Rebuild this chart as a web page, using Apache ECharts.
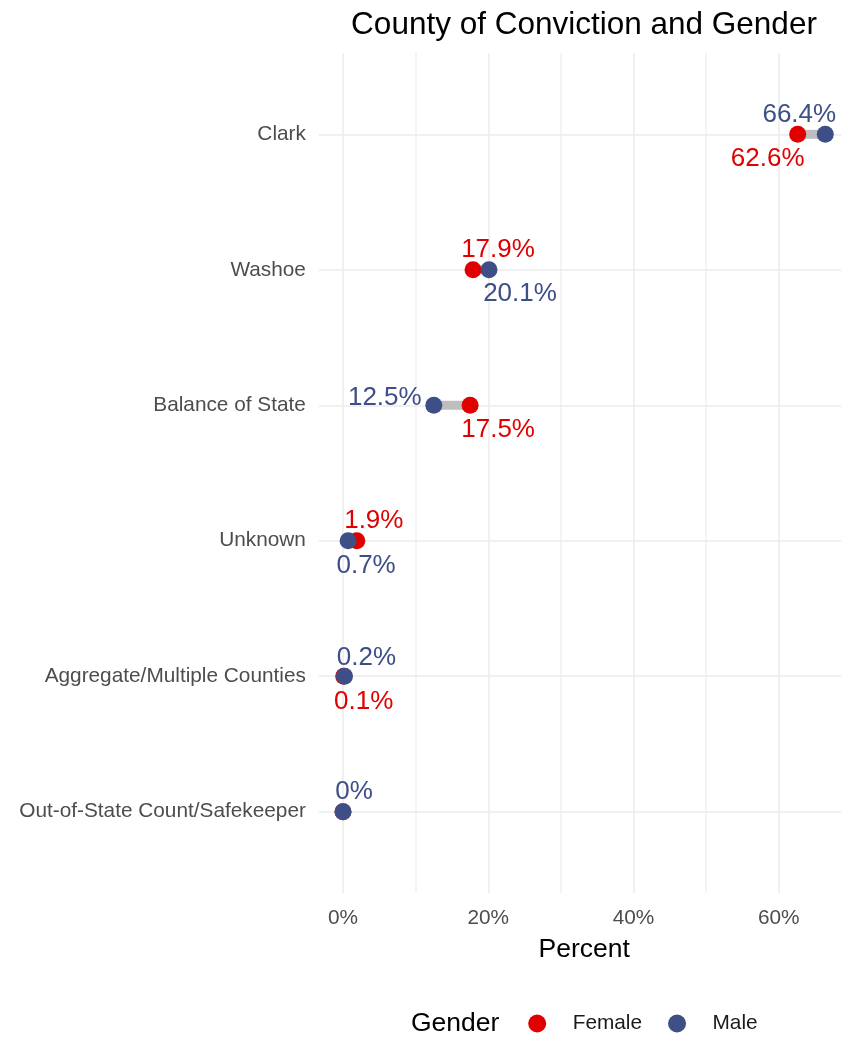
<!DOCTYPE html>
<html>
<head>
<meta charset="utf-8">
<script src="https://cdn.jsdelivr.net/npm/echarts@6/dist/echarts.min.js"></script>
<style>
  html, body { margin: 0; padding: 0; background: #fff; }
  #chart { width: 841px; height: 1037px; }
</style>
</head>
<body>
<div id="chart"></div>
<script>
// data
const categories = [
  "Clark",
  "Washoe",
  "Balance of State",
  "Unknown",
  "Aggregate/Multiple Counties",
  "Out-of-State Count/Safekeeper",
];
const femaleValues = [62.6, 17.9, 17.5, 1.9, 0.1, 0];
const maleValues = [66.4, 20.1, 12.5, 0.7, 0.2, 0];
const xTickValues = [0, 20, 40, 60];
const xGridValues = [0, 10, 20, 30, 40, 50, 60];

// label placement (repelled text), null = no label
const femaleLabelOffsets = [[-30, 24.5], [25, -19.5], [28, 25], [17, -19.5], [20, 25.5], null];
const maleLabelOffsets = [[-26, -19.5], [31, 24.5], [-49, -7.5], [18, 25.5], [22, -18.5], [11, -19.5]];

const FONT = "'Liberation Sans', Arial, sans-serif";
const RED = "#e00000";
const BLUE = "#3e4e87";
const GRID = "#ebebeb";

const pointData = (values, offsets) =>
  values.map((v, i) => ({
    value: [v, i],
    label: offsets[i]
      ? { show: true, offset: offsets[i] }
      : { show: false },
  }));

const chart = echarts.init(document.getElementById("chart"), null, { renderer: "canvas" });

chart.setOption({
  animation: false,
  backgroundColor: "#fff",
  textStyle: { fontFamily: FONT },
  title: {
    text: "County of Conviction and Gender",
    left: 584,
    top: 9,
    padding: 0,
    textAlign: "center",
    textStyle: { fontFamily: FONT, fontSize: 31.5, fontWeight: "normal", color: "#000" },
  },
  graphic: [
    {
      type: "text",
      left: 411,
      top: 1010,
      style: { text: "Gender", font: `26.5px ${FONT}`, fill: "#000" },
    },
  ],
  legend: {
    data: ["Female", "Male"],
    left: 528.2,
    top: 1013,
    padding: 0,
    icon: "circle",
    itemWidth: 18,
    itemHeight: 18,
    itemGap: 26,
    textStyle: {
      fontFamily: FONT,
      fontSize: 20.8,
      color: "#1a1a1a",
      padding: [0, 0, 0, 21.5],
    },
  },
  grid: {
    left: 318.9,
    width: 530.5,
    top: 53,
    bottom: 144,
    outerBoundsMode: "none",
  },
  xAxis: {
    type: "value",
    min: -3.32,
    max: 69.72,
    name: "Percent",
    nameLocation: "middle",
    nameGap: 57,
    nameTextStyle: { fontFamily: FONT, fontSize: 26.5, color: "#000", verticalAlign: "middle" },
    axisLine: { show: false },
    axisTick: { show: false, customValues: xGridValues },
    axisLabel: {
      customValues: xTickValues,
      formatter: (v) => `${v}%`,
      color: "#4d4d4d",
      fontFamily: FONT,
      fontSize: 20.8,
      margin: 15,
    },
    splitLine: {
      show: true,
      lineStyle: { color: [GRID, "#f1f1f1"], width: 1.5 },
    },
  },
  yAxis: {
    type: "value",
    inverse: true,
    min: -0.6,
    max: 5.6,
    axisLine: { show: false },
    axisTick: { show: false, customValues: [0, 1, 2, 3, 4, 5] },
    splitLine: { show: false },
    axisLabel: {
      customValues: [0, 1, 2, 3, 4, 5],
      formatter: (v) => categories[v] ?? "",
      color: "#4d4d4d",
      fontFamily: FONT,
      fontSize: 20.8,
      margin: 13,
      lineHeight: 26,
      padding: [4, 0, 0, 0],
    },
  },
  series: [
    {
      name: "segments",
      type: "custom",
      z: 2,
      silent: true,
      encode: { x: [0, 1], y: 2 },
      data: categories.map((c, i) => [femaleValues[i], maleValues[i], i]),
      renderItem: (params, api) => {
        const a = api.coord([api.value(0), api.value(2)]);
        const b = api.coord([api.value(1), api.value(2)]);
        return {
          type: "line",
          shape: { x1: a[0], y1: a[1], x2: b[0], y2: b[1] },
          style: { stroke: "#bebebe", lineWidth: 9 },
        };
      },
    },
    {
      name: "Female",
      type: "scatter",
      z: 3,
      symbol: "circle",
      symbolSize: 17,
      itemStyle: { color: RED, opacity: 1 },
      label: {
        position: "inside",
        align: "center",
        verticalAlign: "middle",
        color: RED,
        fontFamily: FONT,
        fontSize: 26,
        formatter: (p) => `${p.value[0]}%`,
      },
      data: pointData(femaleValues, femaleLabelOffsets),
      markLine: {
        silent: true,
        z: 0,
        symbol: ["none", "none"],
        label: { show: false },
        lineStyle: { color: GRID, width: 1.6, type: "solid" },
        data: categories.map((c, i) => ({ yAxis: i })),
      },
    },
    {
      name: "Male",
      type: "scatter",
      z: 4,
      symbol: "circle",
      symbolSize: 17,
      itemStyle: { color: BLUE, opacity: 1 },
      label: {
        position: "inside",
        align: "center",
        verticalAlign: "middle",
        color: BLUE,
        fontFamily: FONT,
        fontSize: 26,
        formatter: (p) => `${p.value[0]}%`,
      },
      data: pointData(maleValues, maleLabelOffsets),
    },
  ],
});
</script>
</body>
</html>
